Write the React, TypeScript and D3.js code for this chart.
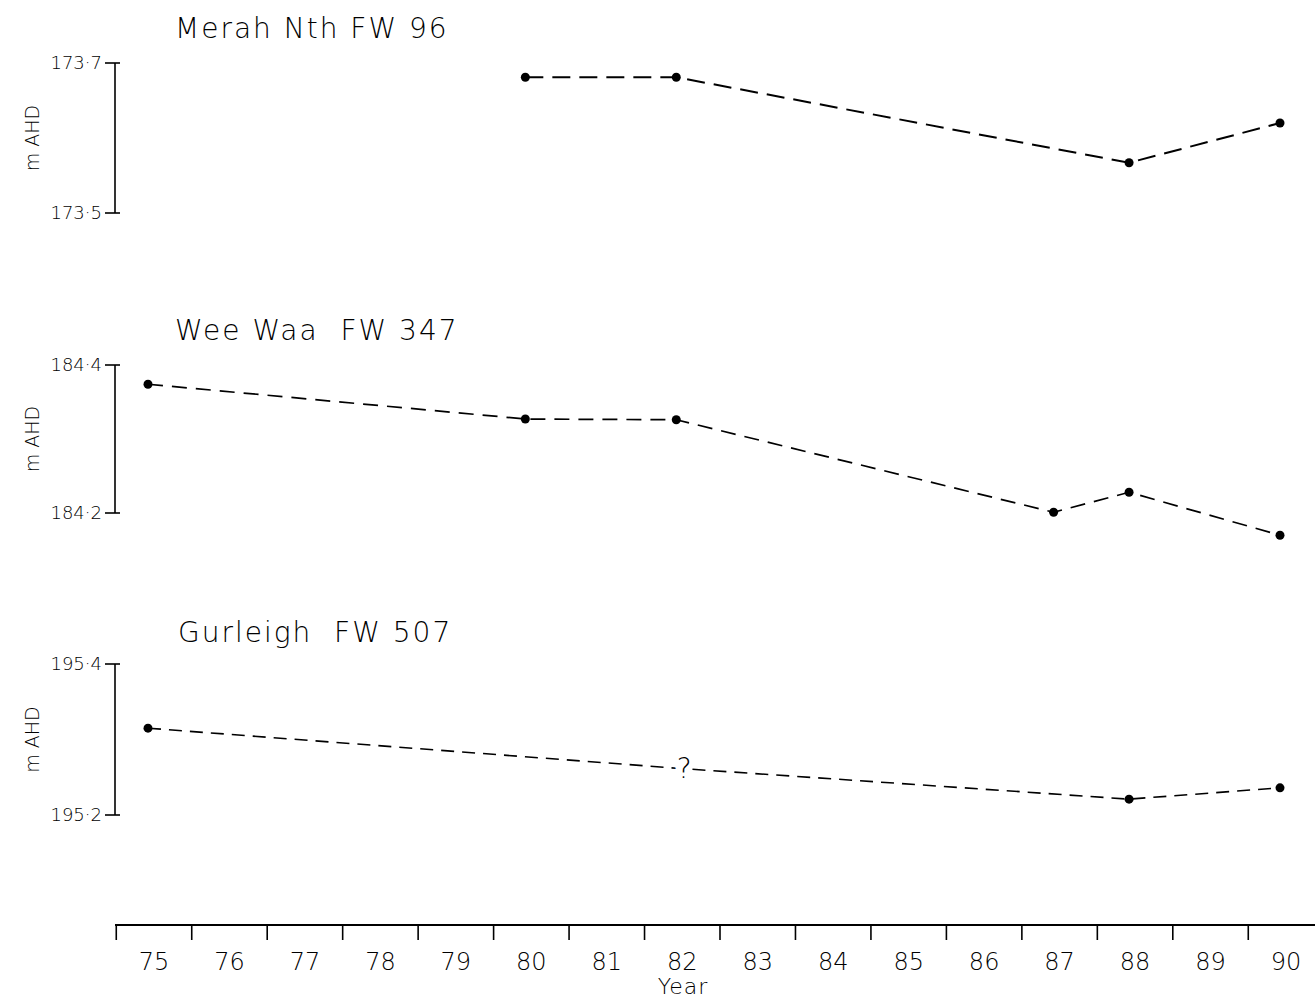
import React from "react";
import * as d3 from "d3";

// year labels along the bottom axis
const yearLabels = [75, 76, 77, 78, 79, 80, 81, 82, 83, 84, 85, 86, 87, 88, 89, 90];

// Merah Nth FW 96
const merahYears = [80, 82, 88, 90];
const merahLevels = [173.681, 173.681, 173.567, 173.62];
const merahTicks = [173.5, 173.7];

// Wee Waa FW 347
const weeWaaYears = [75, 80, 82, 87, 88, 90];
const weeWaaLevels = [184.374, 184.327, 184.326, 184.201, 184.228, 184.17];
const weeWaaTicks = [184.2, 184.4];

// Gurleigh FW 507 (82 reading is uncertain, shown as "?")
const gurleighYears = [75, 82, 88, 90];
const gurleighLevels = [195.315, 195.262, 195.221, 195.236];
const gurleighUncertain = [false, true, false, false];
const gurleighTicks = [195.2, 195.4];

const W = 1315;
const H = 999;
const FONT = "'DejaVu Sans', sans-serif";
const axisX = 115;

const x = d3.scaleLinear().domain([75, 90]).range([148, 1280]);
const shift = 6;

const fmt = (v: number) => v.toFixed(1).replace(".", "\u00b7");

const panels = [
  { title: "Merah Nth FW 96", titleX: 175, titleY: 38, top: 63, bottom: 213, ticks: merahTicks,
    years: merahYears, levels: merahLevels, unsure: merahYears.map(() => false), dash: "18 9", sw: 2 },
  { title: "Wee Waa  FW 347", titleX: 175, titleY: 340, top: 365, bottom: 513, ticks: weeWaaTicks,
    years: weeWaaYears, levels: weeWaaLevels, unsure: weeWaaYears.map(() => false), dash: "15 9", sw: 1.7 },
  { title: "Gurleigh  FW 507", titleX: 178, titleY: 642, top: 664, bottom: 815, ticks: gurleighTicks,
    years: gurleighYears, levels: gurleighLevels, unsure: gurleighUncertain, dash: "13 8", sw: 1.6 },
];

function Panel({ p }: { p: (typeof panels)[number] }) {
  const y = d3.scaleLinear().domain(p.ticks).range([p.bottom, p.top]);
  const pts = p.years.map((yr, i) => ({ yr, v: p.levels[i], q: p.unsure[i] }));
  const line = d3.line<{ yr: number; v: number }>().x((d) => x(d.yr)).y((d) => y(d.v));
  return (
    <g>
      <text x={p.titleX} y={p.titleY} fontSize={28} fontWeight={200} letterSpacing={2} fontFamily={FONT}
        style={{ whiteSpace: "pre" }}>
        {p.title}
      </text>
      <line x1={axisX} x2={axisX} y1={y(p.ticks[1])} y2={y(p.ticks[0])} stroke="#000" strokeWidth={1.6} />
      {p.ticks.map((t) => (
        <g key={t}>
          <line x1={axisX - 10} x2={axisX + 5} y1={y(t)} y2={y(t)} stroke="#000" strokeWidth={1.6} />
          <text x={axisX - 13} y={y(t)} dy="0.35em" textAnchor="end" fontSize={18} fontWeight={200} fontFamily={FONT}>
            {fmt(t)}
          </text>
        </g>
      ))}
      <text
        transform={`translate(39,${(p.top + p.bottom) / 2}) rotate(-90)`}
        textAnchor="middle"
        fontSize={19}
        fontWeight={200}
        fontFamily={FONT}
      >
        m AHD
      </text>
      <path d={line(pts) || ""} fill="none" stroke="#000" strokeWidth={p.sw} strokeDasharray={p.dash} />
      {pts.map((d) =>
        d.q ? (
          <text key={d.yr} x={x(d.yr) + 8} y={y(d.v)} dy="0.35em" textAnchor="middle" fontSize={28}
            fontWeight={200} fontFamily={FONT} stroke="#fff" strokeWidth={10} paintOrder="stroke" fill="#000">
            ?
          </text>
        ) : (
          <circle key={d.yr} cx={x(d.yr)} cy={y(d.v)} r={4.5} fill="#000" />
        )
      )}
    </g>
  );
}

export default function App() {
  const axisY = 925;
  return (
    <svg width={W} height={H} style={{ position: "absolute", left: 0, top: 0, background: "#fff" }}>
      {panels.map((p) => (
        <Panel key={p.title} p={p} />
      ))}
      <line x1={axisX} x2={W} y1={axisY} y2={axisY} stroke="#000" strokeWidth={1.8} />
      {yearLabels.map((yr) => (
        <g key={yr}>
          <line x1={x(yr - 0.5) + shift} x2={x(yr - 0.5) + shift} y1={axisY} y2={axisY + 15} stroke="#000" strokeWidth={1.6} />
          <text x={x(yr) + shift} y={962} dy="0.35em" textAnchor="middle" fontSize={24} fontWeight={200} fontFamily={FONT}>
            {yr}
          </text>
        </g>
      ))}
      <text x={683} y={986} dy="0.35em" textAnchor="middle" fontSize={22} fontWeight={200} letterSpacing={1} fontFamily={FONT}>
        Year
      </text>
    </svg>
  );
}
